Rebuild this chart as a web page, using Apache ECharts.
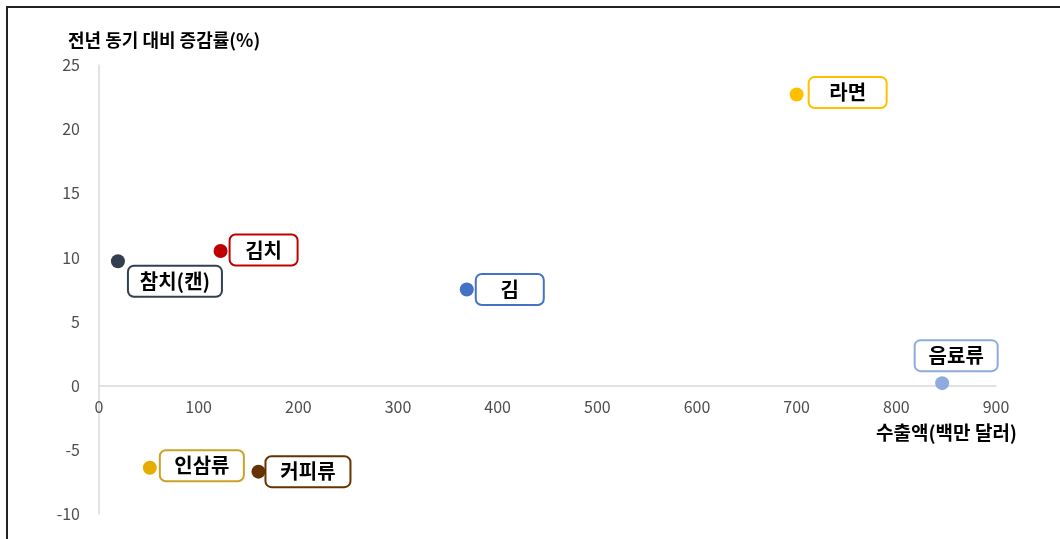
<!DOCTYPE html>
<html>
<head>
<meta charset="utf-8">
<script src="https://cdn.jsdelivr.net/npm/echarts@6/dist/echarts.min.js"></script>
<style>
  html, body { margin: 0; padding: 0; background: #fff; }
  #chart { width: 1060px; height: 539px; }
</style>
</head>
<body>
<div id="chart"></div>
<script>
// 품목별 데이터
const names = ['라면', '김치', '참치(캔)', '김', '음료류', '인삼류', '커피류'];
const exportValue = [700, 122, 19, 369, 846, 51, 160];   // 수출액(백만 달러)
const growthRate = [22.7, 10.5, 9.7, 7.5, 0.2, -6.4, -6.7]; // 전년 동기 대비 증감률(%)
const xTicks = [0, 100, 200, 300, 400, 500, 600, 700, 800, 900];
const yTicks = [-10, -5, 0, 5, 10, 15, 20, 25];

// 색상 / 라벨 배치 (스타일)
const colors = ['#FFC000', '#C00000', '#333F50', '#4472C4', '#8FAADC', '#E6AC00', '#663300'];
const borderColors = ['#FFC000', '#C00000', '#333F50', '#4472C4', '#8FAADC', '#C9A227', '#663300'];
const labelPlace = [
  { position: 'right', distance: 6, offset: [0, -2], width: 80 },
  { position: 'right', distance: 3, offset: [0, -1], width: 70 },
  { position: 'right', distance: 4, offset: [0, 20], width: 96 },
  { position: 'right', distance: 3, offset: [0, 0], width: 70 },
  { position: 'top', distance: 6, offset: [14, 0], width: 85 },
  { position: 'right', distance: 4, offset: [0, -2], width: 86 },
  { position: 'right', distance: 1, offset: [0, 0], width: 87 }
];

const chart = echarts.init(document.getElementById('chart'));

const points = names.map((n, i) => ({
  name: n,
  value: [exportValue[i], growthRate[i]],
  itemStyle: { color: colors[i], opacity: 1 },
  label: {
    show: true,
    formatter: '{t|' + n + '}',
    position: labelPlace[i].position,
    distance: labelPlace[i].distance,
    offset: labelPlace[i].offset,
    opacity: 1,
    backgroundColor: '#fff',
    borderColor: borderColors[i],
    borderWidth: 2,
    borderRadius: 5,
    padding: 0,
    rich: {
      t: {
        width: labelPlace[i].width - 4,
        height: 29,
        lineHeight: 29,
        align: 'center',
        verticalAlign: 'middle',
        color: '#000',
        fontSize: 20,
        fontWeight: 'bold',
        fontFamily: 'Noto Sans CJK KR'
      }
    }
  }
}));

const option = {
  animation: false,
  textStyle: { fontFamily: 'Noto Sans CJK KR' },
  grid: { left: 99, right: 64, top: 65, bottom: 25, containLabel: false },
  xAxis: {
    type: 'value',
    min: xTicks[0],
    max: xTicks[xTicks.length - 1],
    interval: 100,
    axisLine: { onZero: true, lineStyle: { color: '#d9d9d9', width: 1.5 } },
    axisTick: { show: false },
    splitLine: { show: false },
    // 라벨을 0선 바로 아래로
    axisLabel: { color: '#4d4d4d', fontSize: 16, margin: -115 }
  },
  yAxis: {
    type: 'value',
    min: yTicks[0],
    max: yTicks[yTicks.length - 1],
    interval: 5,
    axisLine: { show: true, onZero: false, lineStyle: { color: '#d9d9d9', width: 1.5 } },
    axisTick: { show: false },
    splitLine: { show: false },
    axisLabel: { color: '#4d4d4d', fontSize: 16, margin: 19 }
  },
  graphic: [
    { type: 'line', shape: { x1: 6, y1: 7, x2: 1060, y2: 7 }, style: { stroke: '#222', lineWidth: 2 } },
    { type: 'line', shape: { x1: 7, y1: 6, x2: 7, y2: 539 }, style: { stroke: '#222', lineWidth: 2 } },
    {
      type: 'text', left: 68, top: 31,
      style: { text: '전년 동기 대비 증감률(%)', fill: '#000', font: 'bold 18px "Noto Sans CJK KR"' }
    },
    {
      type: 'text', left: 876, top: 423,
      style: { text: '수출액(백만 달러)', fill: '#000', font: 'bold 19px "Noto Sans CJK KR"' }
    }
  ],
  series: [{
    type: 'scatter',
    symbolSize: 14,
    itemStyle: { opacity: 1 },
    data: points
  }]
};

chart.setOption(option);
</script>
</body>
</html>
